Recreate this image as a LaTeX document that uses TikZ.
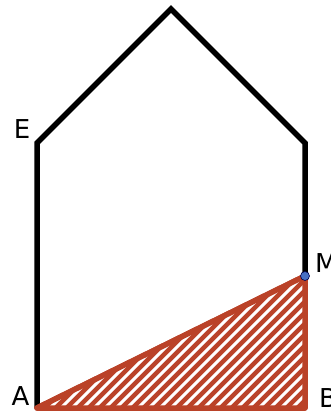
\documentclass[tikz,border=0pt]{standalone}
\usepackage{fontspec}
\setmainfont{DejaVu Sans}
\usetikzlibrary{positioning}

\definecolor{hatchred}{RGB}{186,66,40}
\definecolor{dotblue}{RGB}{72,112,196}

\begin{document}
\begin{tikzpicture}[
  x=1pt, y=-1pt,
  wall/.style={draw=black, line width=5.5pt, line join=miter},
  shade/.style={draw=hatchred, fill=hatchred, line width=5.5pt, line join=round},
  hatchline/.style={draw=white, line width=3pt},
  ptlabel/.style={font=\fontsize{26}{26}\selectfont, inner sep=0pt},
  dot/.style={circle, draw=black!70!blue, fill=dotblue, line width=0.6pt,
              minimum size=9pt, inner sep=0pt}
]
  \useasboundingbox (0,0) rectangle (330,412);
  \coordinate (A) at (37,408);
  \coordinate (B) at (305,408);
  \coordinate (M) at (305,276);
  \coordinate (C) at (305,143);
  \coordinate (T) at (171,9);
  \coordinate (E) at (37,143);

  % house outline
  \draw[wall] (A) -- (E) -- (T) -- (C) -- (M);

  % hatched triangle
  \draw[shade] (A) -- (B) -- (M) -- cycle;
  \begin{scope}
    \clip (A) -- (B) -- (M) -- cycle;
    \foreach \k in {0,11,...,440}
      \draw[hatchline] (37+\k-140,408+10) -- (37+\k+10,408-140);
  \end{scope}
  \draw[hatchred, line width=5.5pt, line join=round] (A) -- (B) -- (M) -- cycle;

  \node[dot] (Mdot) at (M) {};

  \node[ptlabel] (labE) at (22,129) {E};
  \node[ptlabel] (labA) at (20.5,396) {A};
  \node[ptlabel, anchor=west] (labM) at (315,263) {M};
  \node[ptlabel, anchor=west] (labB) at (319,398) {B};
\end{tikzpicture}
\end{document}
